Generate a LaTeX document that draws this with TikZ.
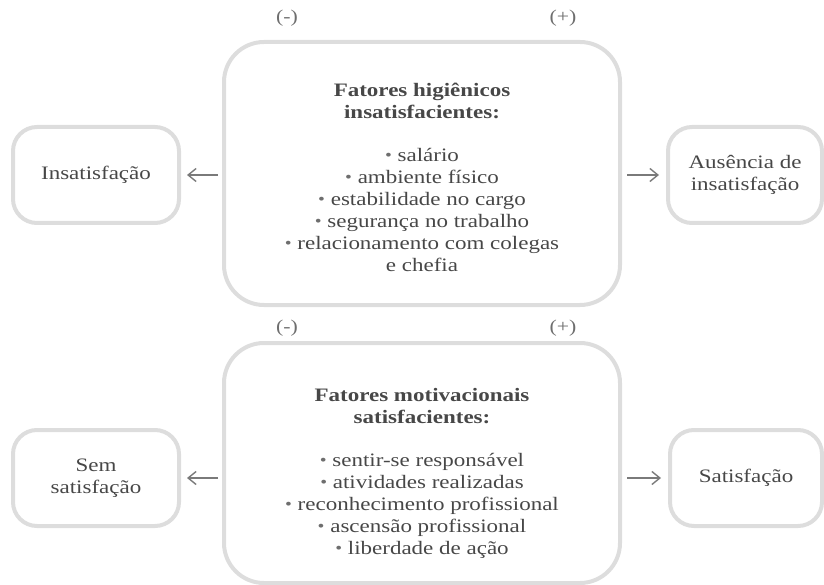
\documentclass[tikz,border=0pt]{standalone}
\usepackage{fontspec}
\setmainfont{Liberation Serif}[FakeStretch=1.21]
\usepackage{graphicx}
\usetikzlibrary{arrows.meta}
\definecolor{boxgray}{HTML}{DDDDDD}
\definecolor{txtgray}{HTML}{474747}
\definecolor{signgray}{HTML}{6E6E6E}
\definecolor{arrgray}{HTML}{7A7A7A}
\newcommand{\bul}{\raisebox{0.1ex}{\scalebox{0.85}{\textcolor{signgray}{\textbullet}}}\ }
\begin{document}
\begin{tikzpicture}[x=1pt,y=-1pt,
  bigbox/.style={draw=boxgray,line width=4pt,rounded corners=40pt,minimum width=396pt,inner sep=0pt},
  sidebox/.style={draw=boxgray,line width=4pt,rounded corners=24pt,inner sep=0pt,minimum height=96pt},
  lbl/.style={text=txtgray,font=\fontsize{19}{22}\selectfont,align=center},
  sign/.style={text=signgray,font=\fontsize{18}{20}\selectfont},
  conn/.style={draw=arrgray,line width=1.4pt,-{Straight Barb[length=8pt,width=13pt,line width=1.4pt]}}
]
\useasboundingbox (0,0) rectangle (824,585);
% top row
\node[bigbox,minimum height=263pt] (top) at (422,173.5) {};
\node[lbl] (toptxt) at (422,177) {\textbf{Fatores higiênicos}\\ \textbf{insatisfacientes:}\\[21pt]
\bul salário\\ \bul ambiente físico\\ \bul estabilidade no cargo\\ \bul segurança no trabalho\\ \bul relacionamento com colegas\\ e chefia};
\node[sidebox,minimum width=166pt] (ins) at (96,175) {};
\node[lbl] (instxt) at (96,175) {Insatisfação};
\node[sidebox,minimum width=154pt] (aus) at (745,175) {};
\node[lbl] (austxt) at (745,175) {Ausência de\\ insatisfação};
\node[sign] (tm) at (287,18) {(-)};
\node[sign] (tp) at (563,18) {(+)};
\draw[conn,shorten <=4pt,shorten >=6pt] (top.west |- ins) -- (ins.east);
\draw[conn,shorten <=5pt,shorten >=7pt] (top.east |- aus) -- (aus.west);
% bottom row
\node[bigbox,minimum height=240pt] (bot) at (422,463) {};
\node[lbl] (bottxt) at (422,473) {\textbf{Fatores motivacionais}\\ \textbf{satisfacientes:}\\[21pt]
\bul sentir-se responsável\\ \bul atividades realizadas\\ \bul reconhecimento profissional\\ \bul ascensão profissional\\ \bul liberdade de ação};
\node[sidebox,minimum width=166pt] (sem) at (96,478) {};
\node[lbl] (semtxt) at (96,478) {Sem\\ satisfação};
\node[sidebox,minimum width=152pt] (sat) at (746,478) {};
\node[lbl] (sattxt) at (746,478) {Satisfação};
\node[sign] (bm) at (287,328) {(-)};
\node[sign] (bp) at (563,328) {(+)};
\draw[conn,shorten <=4pt,shorten >=6pt] (bot.west |- sem) -- (sem.east);
\draw[conn,shorten <=5pt,shorten >=7pt] (bot.east |- sat) -- (sat.west);
\end{tikzpicture}
\end{document}
